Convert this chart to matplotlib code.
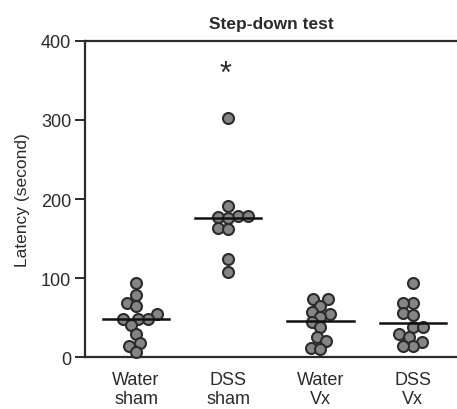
import matplotlib
matplotlib.use("Agg")
import matplotlib.pyplot as plt
import numpy as np

categories = ["Water\nsham", "DSS\nsham", "Water\nVx", "DSS\nVx"]
water_sham = [94.5, 78.7, 69, 64.6, 55.3, 49, 49, 49, 40.4, 29.8, 17.9, 14.8, 6.4]
dss_sham = [303, 191.6, 178.8, 177.5, 178.8, 176.6, 163.9, 161.7, 124.7, 107.7]
water_vx = [73.6, 73.6, 65.1, 57.5, 55.3, 51.1, 44.7, 38.3, 26.3, 21.2, 11.5, 10.6]
dss_vx = [93.6, 69, 69, 56.2, 54, 38.3, 38.3, 29.8, 25.5, 20, 14, 14.8]
center_lines = [49, 176, 45.5, 43.4]
yticks = [0, 100, 200, 300, 400]
star_value = 358

plt.rcParams['font.family'] = ['Liberation Sans', 'DejaVu Sans']
ink = "#2b2b2b"

fig = plt.figure(figsize=(4.57, 4.10), dpi=100)
ax = fig.add_axes([0.186, 0.126, 0.814, 0.772])
xlim = (-0.553, 3.48)
ylim = (0, 400)
ax.set_xlim(*xlim)
ax.set_ylim(*ylim)

# pixel scales for the beeswarm layout
bbox = ax.get_position()
px_w = bbox.width * fig.get_figwidth() * fig.dpi
px_h = bbox.height * fig.get_figheight() * fig.dpi
sx = px_w / (xlim[1] - xlim[0])
sy = px_h / (ylim[1] - ylim[0])
min_dist = 10.0  # px between centres (slight overlap allowed)


def swarm_offsets(vals):
    vals = np.asarray(vals, dtype=float)
    order = np.argsort(vals)
    placed = []
    offs = np.zeros(len(vals))
    for idx in order:
        y = vals[idx] * sy
        cands = [0.0]
        for (px, py) in placed:
            dy = abs(py - y)
            if dy < min_dist:
                dx = np.sqrt(min_dist ** 2 - dy ** 2)
                cands += [px + dx, px - dx]
        cands = sorted(cands, key=lambda c: (abs(c), c))
        for c in cands:
            if all((c - px) ** 2 + (y - py) ** 2 >= (min_dist - 1e-6) ** 2 for px, py in placed):
                offs[idx] = c / sx
                placed.append((c, y))
                break
    return offs


for i, vals in enumerate([water_sham, dss_sham, water_vx, dss_vx]):
    offs = swarm_offsets(vals)
    ax.scatter(i + offs, vals, s=7.9 ** 2, c="#858585", edgecolors=ink,
               linewidths=1.5, zorder=3, clip_on=False)

for i, m in enumerate(center_lines):
    ax.plot([i - 0.36, i + 0.36], [m, m], color="#111111", lw=1.8, zorder=4)

ax.text(0.97, star_value, "*", ha="center", va="center", fontsize=22, color=ink)

ax.set_yticks(yticks)
ax.set_xticks(range(len(categories)))
ax.set_xticklabels(categories, fontsize=13, color=ink, linespacing=1.15)
ax.tick_params(axis='x', length=0, pad=10)
ax.tick_params(axis='y', length=7, width=1.4, color=ink, labelsize=13, labelcolor=ink, pad=3)
ax.set_ylabel("Latency (second)", fontsize=12.5, color=ink, labelpad=8)
ax.set_title("Step-down test", fontsize=12.5, fontweight="bold", color=ink, pad=9)

for s in ["left", "bottom", "top"]:
    ax.spines[s].set_linewidth(1.6)
    ax.spines[s].set_color(ink)
ax.spines["right"].set_visible(False)
ax.spines["top"].set_zorder(5)

fig.savefig("out.png", dpi=100)
